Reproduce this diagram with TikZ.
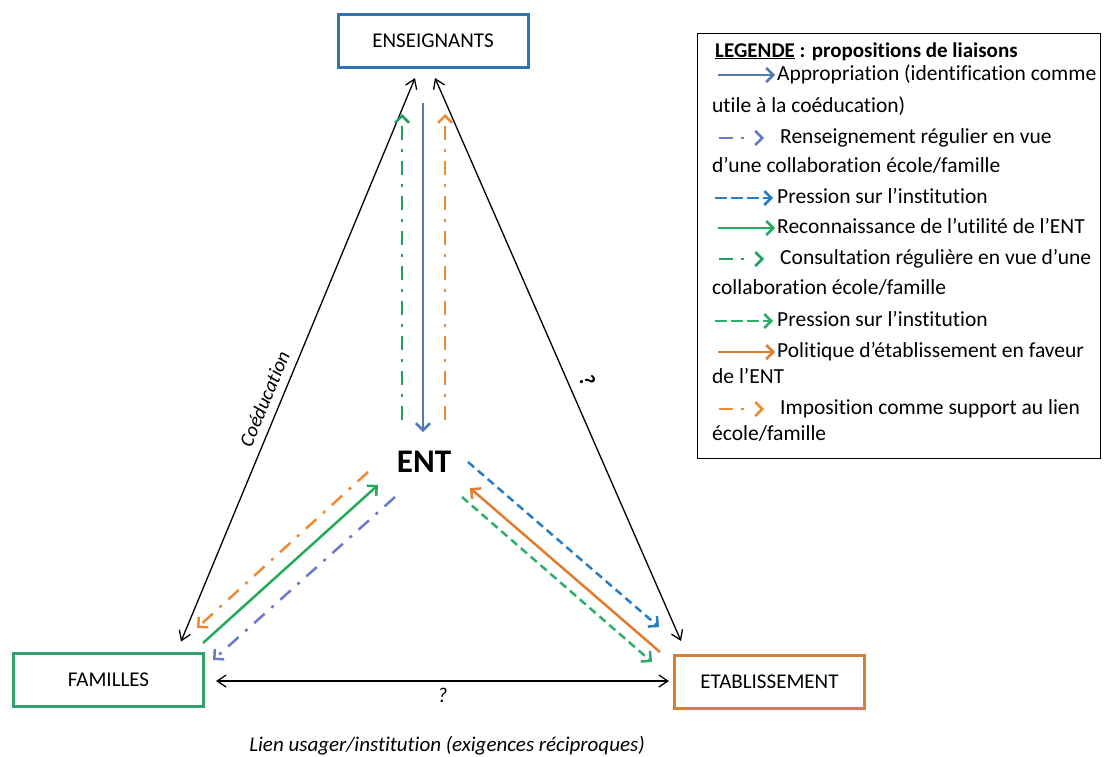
\documentclass[tikz,border=0pt]{standalone}
\usepackage{fontspec}
\setmainfont{Carlito}[Ligatures=NoCommon]
\usetikzlibrary{arrows.meta,calc,positioning}

\definecolor{ensblue}{RGB}{46,117,182}
\definecolor{famgreen}{RGB}{52,160,110}
\definecolor{etaborange}{RGB}{214,128,52}
\definecolor{approblue}{RGB}{84,122,180}
\definecolor{rensblue}{RGB}{104,124,196}
\definecolor{pressblue}{RGB}{40,125,195}
\definecolor{recogreen}{RGB}{36,170,90}
\definecolor{consgreen}{RGB}{34,160,95}
\definecolor{pressgreen}{RGB}{45,175,105}
\definecolor{polorange}{RGB}{226,124,46}
\definecolor{imporange}{RGB}{236,140,50}

\begin{document}
\begin{tikzpicture}[x=1pt,y=-1pt,
  actor/.style={draw,line width=3pt,minimum width=190pt,minimum height=53pt,font=\fontsize{21}{25}\selectfont},
  link/.style={line width=1.3pt,{Straight Barb[length=9pt,width=12pt]}-{Straight Barb[length=9pt,width=12pt]}},
  prop/.style={line width=2.5pt,-{Straight Barb[length=7pt,width=14pt]}},
  dashdot/.style={dash pattern=on 14pt off 9pt on 3pt off 9pt},
  press/.style={dash pattern=on 8pt off 5pt},
  lgd/.style={anchor=west,inner sep=0pt,font=\fontsize{21.5}{25}\selectfont,text height=14pt,text depth=4pt}]
  \useasboundingbox (0,0) rectangle (1105,756);

  \node[actor,draw=ensblue] (ens) at (433,41) {ENSEIGNANTS};
  \node[actor,draw=famgreen] (fam) at (108.5,679.5) {FAMILLES};
  \node[actor,draw=etaborange] (etab) at (769.5,682) {ETABLISSEMENT};
  \node[font=\fontsize{33}{38}\selectfont\bfseries] (ent) at (424,462) {ENT};

  % liens entre acteurs
  \coordinate (ensL) at ($(ens.south)+(-18,9)$);
  \coordinate (ensR) at ($(ens.south)+(2,9)$);
  \coordinate (famT) at ($(fam.north east)+(-24,-10)$);
  \coordinate (famR) at ($(fam.east)+(11,1.5)$);
  \coordinate (etabT) at ($(etab.north west)+(8,-13)$);
  \coordinate (etabL) at ($(etab.west)+(-4,-1)$);
  \draw[link] (famT) -- node[pos=.42,sloped,above=5pt,font=\fontsize{20}{24}\selectfont\itshape] (coed) {Coéducation} (ensL);
  \draw[link] (ensR) -- node[pos=.55,sloped,above=7pt,font=\fontsize{22}{24}\selectfont\bfseries\itshape] (qR) {?} (etabT);
  \draw[link] (famR) -- node[below=3pt,font=\fontsize{21}{24}\selectfont\itshape] (qB) {?} (etabL);
  \node[font=\fontsize{21}{25}\selectfont\itshape] (lien) at (447,746) {Lien usager/institution (exigences réciproques)};

  % ENT / enseignants
  \coordinate (cgA) at (402,420); \coordinate (cgB) at (402,114);
  \coordinate (apA) at (423,103); \coordinate (apB) at (423,432);
  \coordinate (imA) at (445,420); \coordinate (imB) at (445,114);
  \draw[prop,consgreen,dashdot] (cgA) -- (cgB);
  \draw[prop,approblue] (apA) -- (apB);
  \draw[prop,imporange,dashdot] (imA) -- (imB);
  % ENT / familles
  \coordinate (ifA) at (368,472); \coordinate (ifB) at (197,628);
  \coordinate (rfA) at (203,643); \coordinate (rfB) at (378,485);
  \coordinate (bfA) at (395,497); \coordinate (bfB) at (213,660);
  \draw[prop,imporange,dashdot] (ifA) -- (ifB);
  \draw[prop,recogreen] (rfA) -- (rfB);
  \draw[prop,rensblue,dashdot] (bfA) -- (bfB);
  % ENT / etablissement
  \coordinate (peA) at (468,462); \coordinate (peB) at (659,627);
  \coordinate (poA) at (660,652); \coordinate (poB) at (470,488);
  \coordinate (pgA) at (462,497); \coordinate (pgB) at (652,662);
  \draw[prop,pressblue,press] (peA) -- (peB);
  \draw[prop,polorange] (poA) -- (poB);
  \draw[prop,pressgreen,press] (pgA) -- (pgB);

  % legende
  \node[draw,line width=1.3pt,minimum width=403pt,minimum height=425pt,anchor=north west] (legend) at (697,33) {};
  \node[lgd,font=\fontsize{21}{25}\selectfont\bfseries] (l0) at (715,52) {\underline{LEGENDE} : propositions de liaisons};
  \node[lgd] (l1) at (777,75) {Appropriation (identification comme};
  \node[lgd] (l1b) at (712,107) {utile à la coéducation)};
  \node[lgd] (l2) at (780,138) {Renseignement régulier en vue};
  \node[lgd] (l2b) at (712,167) {d’une collaboration école/famille};
  \node[lgd] (l3) at (777,198) {Pression sur l’institution};
  \node[lgd] (l4) at (777,228) {Reconnaissance de l’utilité de l’ENT};
  \node[lgd] (l5) at (780,259) {Consultation régulière en vue d’une};
  \node[lgd] (l5b) at (712,289) {collaboration école/famille};
  \node[lgd] (l6) at (777,321) {Pression sur l’institution};
  \node[lgd] (l7) at (777,352) {Politique d’établissement en faveur};
  \node[lgd] (l7b) at (712,378) {de l’ENT};
  \node[lgd] (l8) at (780,409) {Imposition comme support au lien};
  \node[lgd] (l8b) at (712,435) {école/famille};
  \draw[prop,approblue] ([xshift=-59pt]l1.west) -- ([xshift=-2pt]l1.west);
  \draw[prop,rensblue,dash pattern=on 14pt off 8pt on 3pt off 30pt] ([xshift=-61pt]l2.west) -- ([xshift=-16pt]l2.west);
  \draw[prop,pressblue,dash pattern=on 12pt off 4pt] ([xshift=-62pt]l3.west) -- ([xshift=-4pt]l3.west);
  \draw[prop,recogreen] ([xshift=-59pt]l4.west) -- ([xshift=-2pt]l4.west);
  \draw[prop,consgreen,dash pattern=on 14pt off 8pt on 3pt off 30pt] ([xshift=-61pt]l5.west) -- ([xshift=-16pt]l5.west);
  \draw[prop,pressgreen,dash pattern=on 12pt off 4pt] ([xshift=-62pt]l6.west) -- ([xshift=-4pt]l6.west);
  \draw[prop,polorange] ([xshift=-59pt]l7.west) -- ([xshift=-2pt]l7.west);
  \draw[prop,imporange,dash pattern=on 14pt off 8pt on 3pt off 30pt] ([xshift=-61pt]l8.west) -- ([xshift=-16pt]l8.west);
\end{tikzpicture}
\end{document}
